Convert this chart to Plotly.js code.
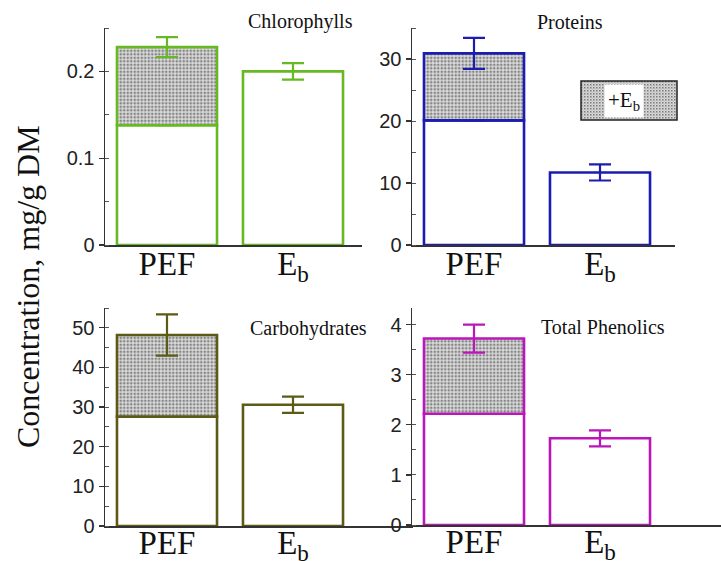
<!DOCTYPE html>
<html>
<head>
<meta charset="utf-8">
<script src="https://cdn.plot.ly/plotly-3.0.1.min.js"></script>
<style>html,body{margin:0;padding:0;background:#fff;}#chart{width:721px;height:561px;}</style>
</head>
<body>
<div id="chart"></div>
<script>
// ---- data ----
const categories = ['PEF', 'E<sub>b</sub>'];
const panelNames = ['Chlorophylls', 'Proteins', 'Carbohydrates', 'Total Phenolics'];
const pefBase  = [0.138, 20.1, 27.6, 2.22];   // PEF part without Eb
const pefTotal = [0.228, 30.9, 48.2, 3.72];   // PEF + Eb total
const pefErr   = [0.0115, 2.5, 5.2, 0.28];
const ebValue  = [0.200, 11.7, 30.6, 1.73];
const ebErr    = [0.0095, 1.3, 2.05, 0.16];
const yMax     = [0.25, 35, 55, 4.33];
const yDtick   = [0.1, 10, 10, 1];
const legendLabel = '+E<sub>b</sub>';
const yTitle = 'Concentration, mg/g DM';

// ---- styles ----
const colors = ['#66b922', '#1c1cb0', '#5c5a14', '#bb16bb'];
const W = 721, H = 561;
const px = v => v / W, py = v => 1 - v / H;
const xDom = [[105, 362], [412, 675], [105, 413], [412, 721]];
const yDom = [[28, 245], [28, 245], [308, 526], [308, 525]];
const catStep = 126, firstOff = 62;
const serif = 'Liberation Serif, Times New Roman, serif';

const traces = [];
const layout = {
  width: W, height: H,
  margin: {l: 0, r: 0, t: 0, b: 0},
  paper_bgcolor: '#fff', plot_bgcolor: 'rgba(0,0,0,0)',
  showlegend: false,
  barmode: 'overlay',
  font: {family: 'Liberation Sans, Arial, sans-serif', color: '#222'},
  annotations: [], shapes: [], images: []
};

const titlePos = [[300, 22], [570, 22], [308, 328], [603, 327]];

for (let i = 0; i < 4; i++) {
  const n = i === 0 ? '' : String(i + 1);
  const xa = 'x' + n, ya = 'y' + n;
  const c = colors[i];
  traces.push({
    type: 'bar', xaxis: xa, yaxis: ya,
    x: categories, y: [pefBase[i], ebValue[i]],
    width: 0.794,
    marker: {color: '#fff', line: {color: c, width: 2.6}},
    error_y: {type: 'data', array: [null, ebErr[i]], visible: true, color: c, thickness: 2.2, width: 11},
    hoverinfo: 'skip'
  });
  traces.push({
    type: 'bar', xaxis: xa, yaxis: ya,
    x: [categories[0]], base: [pefBase[i]], y: [pefTotal[i] - pefBase[i]],
    width: 0.794,
    marker: {color: '#d0d0d0', line: {color: c, width: 2.6},
      pattern: {shape: '.', fgcolor: '#858585', bgcolor: '#dcdcdc', size: 3.5, solidity: 0.45, fillmode: 'replace'}},
    error_y: {type: 'data', array: [pefErr[i]], visible: true, color: c, thickness: 2.2, width: 11},
    hoverinfo: 'skip'
  });

  const xw = xDom[i][1] - xDom[i][0];
  layout['xaxis' + n] = {
    domain: [px(xDom[i][0]), px(xDom[i][1])],
    anchor: ya,
    type: 'category',
    range: [-firstOff / catStep, (xw - firstOff) / catStep],
    showline: true, linecolor: '#333', linewidth: 1.5,
    ticks: '', showgrid: false, zeroline: false,
    ticklabelstandoff: i < 2 ? -11 : -13,
    tickfont: {family: serif, size: 33, color: '#111'},
    fixedrange: true
  };
  layout['yaxis' + n] = {
    domain: [py(yDom[i][1]), py(yDom[i][0])],
    anchor: xa,
    range: [0, yMax[i]],
    dtick: yDtick[i], tick0: 0,
    showline: true, linecolor: '#333', linewidth: 1.5,
    ticks: 'outside', ticklen: 5, tickwidth: 1.3, tickcolor: '#333',
    minor: {dtick: yDtick[i] / 2, ticks: 'inside', ticklen: 4, tickwidth: 1, tickcolor: '#555'},
    showgrid: false, zeroline: false,
    tickfont: {family: 'Liberation Sans, Arial, sans-serif', size: 20, color: '#222'},
    fixedrange: true
  };
  layout.annotations.push({
    xref: 'paper', yref: 'paper', x: px(titlePos[i][0]), y: py(titlePos[i][1]),
    text: panelNames[i], showarrow: false, xanchor: 'center', yanchor: 'middle',
    font: {family: serif, size: 20, color: '#111'}
  });
}

// legend box (stippled swatch) for the +Eb part
const swatchSvg = "<svg xmlns='http://www.w3.org/2000/svg' width='96' height='39'>" +
  "<defs><pattern id='p' width='3' height='3' patternUnits='userSpaceOnUse'>" +
  "<rect width='3' height='3' fill='#dadada'/><rect width='1.5' height='1.5' fill='#7a7a7a'/>" +
  "<rect x='1.5' y='1.5' width='1' height='1' fill='#a0a0a0'/></pattern></defs>" +
  "<rect width='96' height='39' fill='url(#p)'/></svg>";
layout.images.push({
  source: 'data:image/svg+xml;charset=utf-8,' + encodeURIComponent(swatchSvg),
  xref: 'paper', yref: 'paper', x: px(581), y: py(81),
  sizex: 96 / W, sizey: 39 / H, sizing: 'stretch', xanchor: 'left', yanchor: 'top', layer: 'above'
});
layout.shapes.push({
  type: 'rect', xref: 'paper', yref: 'paper',
  x0: px(581), x1: px(677), y0: py(120), y1: py(81),
  fillcolor: 'rgba(0,0,0,0)', line: {color: '#222', width: 1.5}
});
layout.annotations.push({
  xref: 'paper', yref: 'paper', x: px(624), y: py(101),
  text: legendLabel, showarrow: false, xanchor: 'center', yanchor: 'middle',
  bgcolor: '#fff', borderpad: 3,
  font: {family: serif, size: 21, color: '#111'}
});
// shared y title
layout.annotations.push({
  xref: 'paper', yref: 'paper', x: px(28), y: py(287),
  text: yTitle, showarrow: false, textangle: -90,
  xanchor: 'center', yanchor: 'middle',
  font: {family: serif, size: 32, color: '#111'}
});

Plotly.newPlot('chart', traces, layout, {displayModeBar: false, staticPlot: true});
</script>
</body>
</html>
